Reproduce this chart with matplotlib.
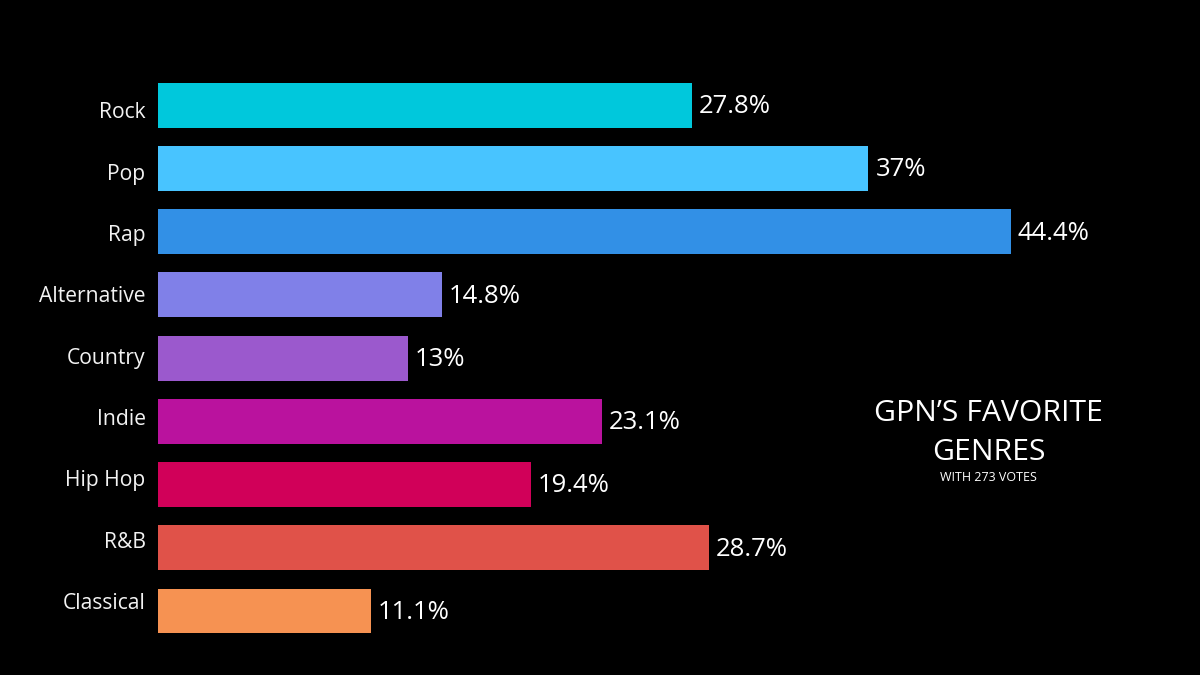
import matplotlib
matplotlib.use('Agg')
import matplotlib.pyplot as plt
import matplotlib.transforms as mtrans
import numpy as np

# --- data ---
genres = ['Rock', 'Pop', 'Rap', 'Alternative', 'Country', 'Indie', 'Hip Hop', 'R&B', 'Classical']
shares = [27.8, 37, 44.4, 14.8, 13, 23.1, 19.4, 28.7, 11.1]
value_labels = ['27.8%', '37%', '44.4%', '14.8%', '13%', '23.1%', '19.4%', '28.7%', '11.1%']
colors = ['#00C8DC', '#48C4FF', '#3290E6', '#8080E8', '#9B59CD', '#BA129E', '#D10059', '#E05249', '#F69252']

title_1 = "GPN\u2019S FAVORITE"
title_2 = "GENRES"
subtitle = "WITH 273 VOTES"

plt.rcParams['font.family'] = ['Open Sans', 'DejaVu Sans']

fig = plt.figure(figsize=(12, 6.75), dpi=100, facecolor='black')
ax = fig.add_axes([0.1317, 0.048, 0.80, 0.843], facecolor='black')

y = np.arange(len(genres))
bars = ax.barh(y, shares, height=0.71, color=colors, edgecolor='none')
ax.set_xlim(0, 50)
ax.set_ylim(len(genres) - 0.5, -0.5)

for bar, lab in zip(bars, value_labels):
    ax.annotate(lab, (bar.get_width(), bar.get_y() + bar.get_height() / 2),
                xytext=(5, -1), textcoords='offset points',
                ha='left', va='center', color='white', fontsize=18.5)

ax.set_yticks(y)
ax.set_yticklabels(genres, color='#F2F2F2', fontsize=15.2)
ax.tick_params(axis='y', length=0, pad=9)
ax.tick_params(axis='x', bottom=False, labelbottom=False)
for s in ax.spines.values():
    s.set_visible(False)

# in the reference the label column is spaced a bit tighter than the bars:
# first label sits a little below its bar, last one a little above
for i, t in enumerate(ax.get_yticklabels()):
    shift = (-5 + 1.85 * i) / 100
    t.set_transform(t.get_transform() + mtrans.ScaledTranslation(0, shift, fig.dpi_scale_trans))

fig.text(0.824, 0.388, title_1, ha='center', va='center', color='white', fontsize=21.7)
fig.text(0.824, 0.330, title_2, ha='center', va='center', color='white', fontsize=21.7)
fig.text(0.824, 0.293, subtitle, ha='center', va='center', color='white', fontsize=9)

fig.savefig('out.png', facecolor='black')
